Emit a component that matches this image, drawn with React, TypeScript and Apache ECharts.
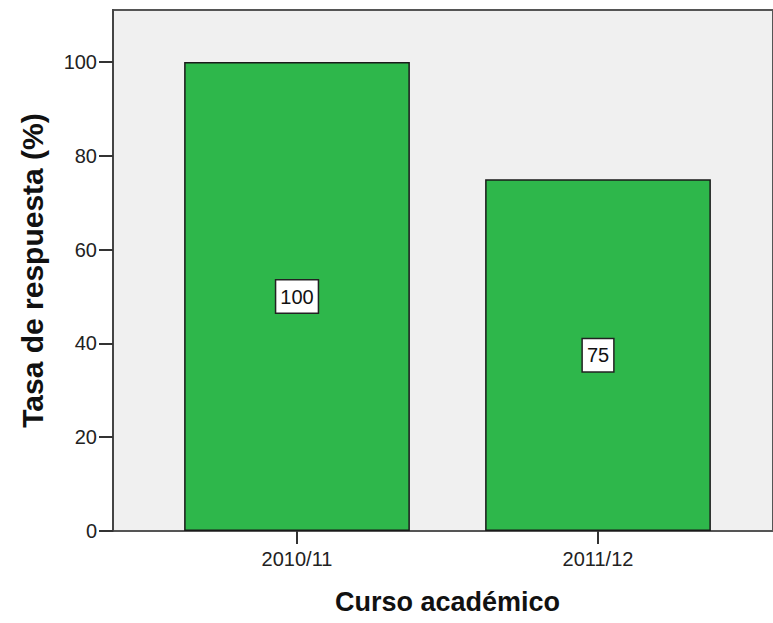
import React, { useEffect, useRef } from "react";
import * as echarts from "echarts";

const categories = ["2010/11", "2011/12"];
const rates = [100, 75];
const yTicks = [0, 20, 40, 60, 80, 100];
const xTitle = "Curso académico";
const yTitle = "Tasa de respuesta (%)";

const FONT = "'Liberation Sans', Arial, sans-serif";
const Y_MAX = 111.1;

export default function App() {
  const ref = useRef<HTMLDivElement>(null);
  useEffect(() => {
    if (!ref.current) return;
    const chart = echarts.init(ref.current, null, { renderer: "svg" });
    chart.setOption({
      animation: false,
      backgroundColor: "#ffffff",
      textStyle: { fontFamily: FONT },
      grid: [
        {
          left: 113,
          top: 10,
          right: -10,
          bottom: 92,
          show: true,
          backgroundColor: "#f0f0f0",
          borderColor: "#555555",
          borderWidth: 2,
        },
        { left: 146.5, top: 10, right: 24.5, bottom: 92 },
      ],
      xAxis: [
        {
          gridIndex: 0,
          type: "value",
          min: 0,
          max: 1,
          show: false,
        },
        {
          gridIndex: 1,
          type: "category",
          data: categories,
          axisLine: { show: false },
          axisTick: {
            show: true,
            alignWithLabel: true,
            length: 13,
            lineStyle: { color: "#333333", width: 2 },
          },
          axisLabel: {
            margin: 18,
            fontSize: 20,
            color: "#222222",
            fontFamily: FONT,
          },
          name: xTitle,
          nameLocation: "middle",
          nameGap: 57,
          nameTextStyle: {
            fontSize: 27,
            fontWeight: "bold",
            color: "#111111",
            fontFamily: FONT,
          },
        },
      ],
      yAxis: [
        {
          gridIndex: 0,
          type: "value",
          min: 0,
          max: Y_MAX,
          axisLine: { show: true, lineStyle: { color: "#444444", width: 2 } },
          splitLine: { show: false },
          axisTick: {
            show: true,
            length: 14,
            customValues: yTicks,
            lineStyle: { color: "#333333", width: 2 },
          },
          axisLabel: {
            margin: 16,
            fontSize: 20,
            color: "#222222",
            fontFamily: FONT,
            customValues: yTicks,
          },
          name: yTitle,
          nameLocation: "middle",
          nameGap: 66,
          nameTextStyle: {
            fontSize: 30,
            fontWeight: "bold",
            color: "#111111",
            fontFamily: FONT,
          },
        },
        {
          gridIndex: 1,
          type: "value",
          min: 0,
          max: Y_MAX,
          show: false,
          splitLine: { show: false },
        },
      ],
      series: [
        {
          type: "bar",
          xAxisIndex: 1,
          yAxisIndex: 1,
          data: rates,
          barWidth: "75%",
          itemStyle: {
            color: "#2eb74b",
            borderColor: "#1a1a1a",
            borderWidth: 1.5,
          },
          label: {
            show: true,
            position: "inside",
            fontSize: 20,
            color: "#111111",
            fontFamily: FONT,
            backgroundColor: "#ffffff",
            borderColor: "#222222",
            borderWidth: 1.5,
            padding: [7, 4, 5, 4],
          },
        },
      ],
    });
    return () => chart.dispose();
  }, []);
  return (
    <div
      ref={ref}
      style={{ position: "fixed", left: 0, top: 0, width: 773, height: 623 }}
    />
  );
}
